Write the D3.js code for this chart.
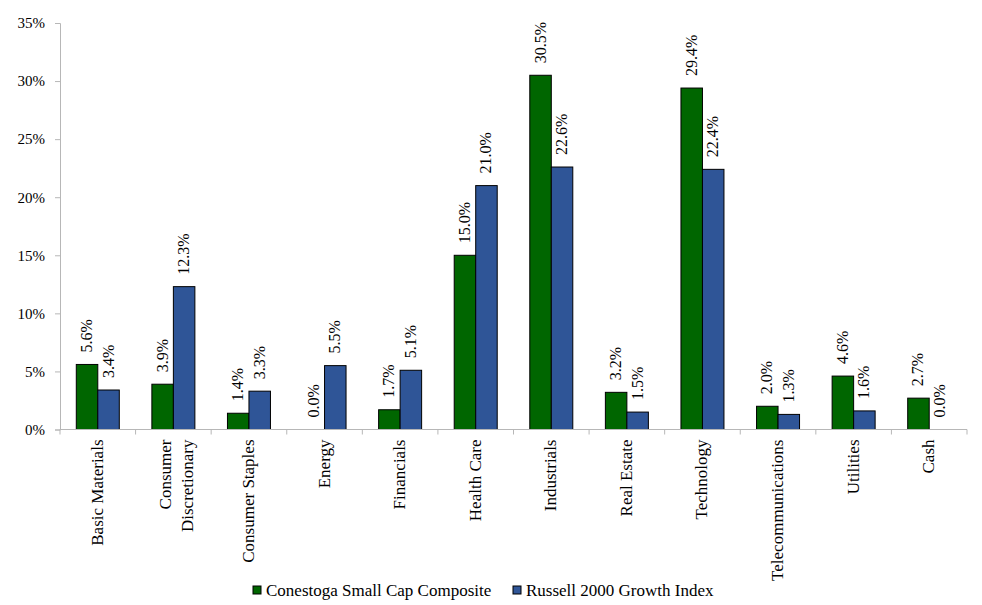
<!DOCTYPE html>
<html>
<head>
<meta charset="utf-8">
<script src="https://cdn.jsdelivr.net/npm/d3@7"></script>
<style>
  body { margin: 0; background: #fff; }
  text { font-family: "Liberation Serif", serif; fill: #000; }
</style>
</head>
<body>
<script>
var categories = ["Basic Materials", "Consumer Discretionary", "Consumer Staples", "Energy", "Financials",
  "Health Care", "Industrials", "Real Estate", "Technology", "Telecommunications", "Utilities", "Cash"];
var seriesNames = ["Conestoga Small Cap Composite", "Russell 2000 Growth Index"];
var conestoga = [5.6, 3.9, 1.4, 0.0, 1.7, 15.0, 30.5, 3.2, 29.4, 2.0, 4.6, 2.7];
var russell = [3.4, 12.3, 3.3, 5.5, 5.1, 21.0, 22.6, 1.5, 22.4, 1.3, 1.6, 0.0];
var yTicks = [0, 5, 10, 15, 20, 25, 30, 35];
var colors = ["#006600", "#2F5597"];

var width = 982, height = 605;
var plotLeft = 60, plotRight = 967, plotTop = 23, plotBottom = 429.5;
var serif = "'Liberation Serif', serif";

var svg = d3.select("body").append("svg")
  .attr("width", width)
  .attr("height", height)
  .attr("font-family", serif);

var x = d3.scaleBand().domain(categories).range([plotLeft, plotRight]).paddingInner(0).paddingOuter(0);
var x1 = d3.scaleBand().domain([0, 1]).range([0, 43]);
var y = d3.scaleLinear().domain([0, 35]).range([plotBottom, plotTop]);

// y axis
var yAxis = svg.append("g")
  .attr("transform", "translate(" + plotLeft + ",0)")
  .call(d3.axisLeft(y).tickValues(yTicks).tickSize(5).tickPadding(10).tickFormat(function(d) { return d + "%"; }));
yAxis.attr("font-family", serif).attr("font-size", 15);
yAxis.selectAll("line, path").attr("stroke", "#b7b7b7");
yAxis.selectAll("text").attr("fill", "#000");

// bars
var data = categories.map(function(c, i) {
  return {cat: c, vals: [{s: 0, v: conestoga[i]}, {s: 1, v: russell[i]}]};
});
var groups = svg.selectAll("g.cat")
  .data(data)
  .enter().append("g")
  .attr("class", "cat")
  .attr("transform", function(d) { return "translate(" + (x(d.cat) + (x.bandwidth() - 43) / 2) + ",0)"; });

groups.selectAll("rect")
  .data(function(d) { return d.vals.filter(function(e) { return e.v > 0; }); })
  .enter().append("rect")
  .attr("x", function(e) { return x1(e.s); })
  .attr("width", x1.bandwidth())
  .attr("y", function(e) { return y(e.v); })
  .attr("height", function(e) { return plotBottom - y(e.v); })
  .attr("fill", function(e) { return colors[e.s]; })
  .attr("stroke", "#000")
  .attr("stroke-width", 1);

groups.selectAll("text.val")
  .data(function(d) { return d.vals; })
  .enter().append("text")
  .attr("class", "val")
  .attr("transform", function(e) {
    return "translate(" + (x1(e.s) + x1.bandwidth() / 2 + 5) + "," + (y(e.v) - 12) + ") rotate(-90)";
  })
  .attr("font-size", 16)
  .text(function(e) { return e.v.toFixed(1) + "%"; });

// x axis
var xAxis = svg.append("g")
  .attr("transform", "translate(0," + plotBottom + ")");
xAxis.append("line")
  .attr("x1", plotLeft).attr("x2", plotRight)
  .attr("stroke", "#b7b7b7");
xAxis.selectAll("line.tick")
  .data(categories.concat([null]))
  .enter().append("line")
  .attr("class", "tick")
  .attr("x1", function(d, i) { return plotLeft + i * x.bandwidth(); })
  .attr("x2", function(d, i) { return plotLeft + i * x.bandwidth(); })
  .attr("y1", 0).attr("y2", 5)
  .attr("stroke", "#b7b7b7");

var labelLines = {"Consumer Discretionary": ["Consumer", "Discretionary"]};
var catLabels = svg.selectAll("text.catlabel")
  .data(categories)
  .enter().append("text")
  .attr("class", "catlabel")
  .attr("text-anchor", "end")
  .attr("font-size", 17)
  .attr("transform", function(d) {
    var n = (labelLines[d] || [d]).length;
    return "translate(" + (x(d) + x.bandwidth() / 2 + 5 - (n - 1) * 7.5) + "," + (plotBottom + 10) + ") rotate(-90)";
  });
catLabels.selectAll("tspan")
  .data(function(d) { return labelLines[d] || [d]; })
  .enter().append("tspan")
  .attr("x", 0)
  .attr("dy", function(d, i) { return i === 0 ? 0 : 22; })
  .text(function(d) { return d; });

// legend
var legendX = [253, 513];
var legend = svg.selectAll("g.legend")
  .data(seriesNames)
  .enter().append("g")
  .attr("class", "legend")
  .attr("transform", function(d, i) { return "translate(" + legendX[i] + ",586)"; });
legend.append("rect")
  .attr("width", 8).attr("height", 8)
  .attr("fill", function(d, i) { return colors[i]; })
  .attr("stroke", "#000");
legend.append("text")
  .attr("x", 13).attr("y", 10)
  .attr("font-size", 17)
  .text(function(d) { return d; });
</script>
</body>
</html>
